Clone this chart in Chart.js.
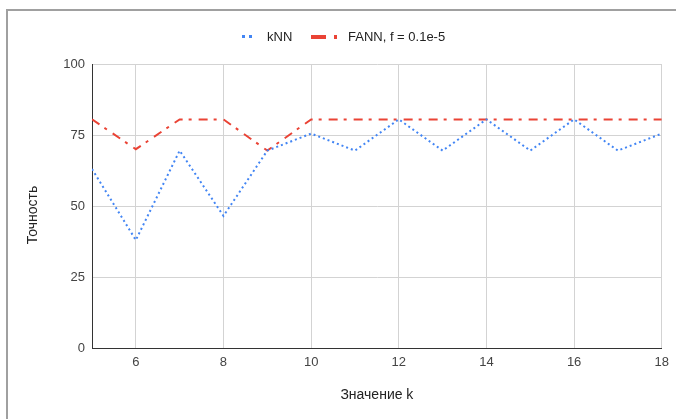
<!DOCTYPE html>
<html>
<head>
<meta charset="utf-8">
<script src="https://cdn.jsdelivr.net/npm/chart.js@4.4.1/dist/chart.umd.min.js"></script>
<style>
  html, body { margin: 0; padding: 0; background: #fff; overflow: hidden; }
  #frame {
    position: absolute; left: 6px; top: 9px; width: 720px; height: 460px;
    border-top: 2px solid #a0a0a0; border-left: 2px solid #a0a0a0;
  }
  #wrap { position: absolute; left: 0; top: 0; width: 676px; height: 419px; }
</style>
</head>
<body>
<div id="frame"></div>
<div id="wrap"><canvas id="accChart"></canvas></div>
<script>
const kValues = [5, 6, 7, 8, 9, 10, 11, 12, 13, 14, 15, 16, 17, 18];
const knnAcc = [63, 38, 69.5, 46.5, 69.5, 75.5, 69.5, 80.5, 69.5, 80.5, 69.5, 80.5, 69.5, 75.5];
const fannAcc = [80.5, 70, 80.5, 80.5, 69.5, 80.5, 80.5, 80.5, 80.5, 80.5, 80.5, 80.5, 80.5, 80.5];
const xTicks = [6, 8, 10, 12, 14, 16, 18];
const yTicks = [0, 25, 50, 75, 100];

const FONT = "'Liberation Sans', Arial, sans-serif";

// legend + rotated y title drawn by hand (google-charts look)
const extrasPlugin = {
  id: "extras",
  afterDraw(chart) {
    const ctx = chart.ctx;
    ctx.save();
    ctx.font = "13px " + FONT;
    ctx.fillStyle = "#222";
    ctx.textBaseline = "middle";
    const ly = 37;
    // kNN marker: two dots
    ctx.fillStyle = "#4285F4";
    ctx.fillRect(242, ly - 2, 3, 3);
    ctx.fillRect(249, ly - 2, 3, 3);
    ctx.fillStyle = "#222";
    ctx.fillText(chart.data.datasets[0].label, 267, ly);
    // FANN marker: dash + dot
    ctx.fillStyle = "#EA4335";
    ctx.fillRect(311, ly - 2, 15, 4);
    ctx.fillRect(334, ly - 2, 3, 4);
    ctx.fillStyle = "#222";
    ctx.fillText(chart.data.datasets[1].label, 348, ly);

    // y axis title
    ctx.translate(33, 215);
    ctx.rotate(-Math.PI / 2);
    ctx.textAlign = "center";
    ctx.font = "14px " + FONT;
    ctx.fillText("Точность", 0, 0);
    ctx.restore();
  }
};

const ctx = document.getElementById("accChart").getContext("2d");
const accChart = new Chart(ctx, {
  type: "line",
  data: {
    datasets: [
      {
        label: "kNN",
        data: kValues.map((k, i) => ({ x: k, y: knnAcc[i] })),
        borderColor: "#4285F4",
        borderWidth: 2,
        borderDash: [2, 3],
        pointRadius: 0,
        tension: 0,
        fill: false
      },
      {
        label: "FANN, f = 0.1e-5",
        data: kValues.map((k, i) => ({ x: k, y: fannAcc[i] })),
        borderColor: "#EA4335",
        borderWidth: 2,
        borderDash: [9, 6, 3, 7],
        pointRadius: 0,
        tension: 0,
        fill: false
      }
    ]
  },
  options: {
    responsive: true,
    maintainAspectRatio: false,
    animation: false,
    layout: { padding: { top: 64, right: 14, left: 0, bottom: 0 } },
    scales: {
      x: {
        type: "linear",
        min: 5,
        max: 18,
        afterBuildTicks: (scale) => { scale.ticks = xTicks.map(v => ({ value: v })); },
        afterFit: (scale) => { scale.height = 71; },
        grid: { color: "#d3d3d3", drawTicks: false },
        border: { color: "#333", width: 1 },
        ticks: { padding: 7, color: "#444", font: { family: FONT, size: 13 } },
        title: {
          display: true,
          text: "Значение k",
          color: "#222",
          font: { family: FONT, size: 14 },
          padding: { top: 4, bottom: 15 }
        }
      },
      y: {
        min: 0,
        max: 100,
        afterBuildTicks: (scale) => { scale.ticks = yTicks.map(v => ({ value: v })); },
        afterFit: (scale) => { scale.width = 92; },
        grid: { color: "#d3d3d3", drawTicks: false },
        border: { color: "#333", width: 1 },
        ticks: { padding: 7, color: "#444", font: { family: FONT, size: 13 } }
      }
    },
    plugins: {
      legend: { display: false },
      tooltip: { enabled: false }
    }
  },
  plugins: [extrasPlugin]
});
</script>
</body>
</html>
